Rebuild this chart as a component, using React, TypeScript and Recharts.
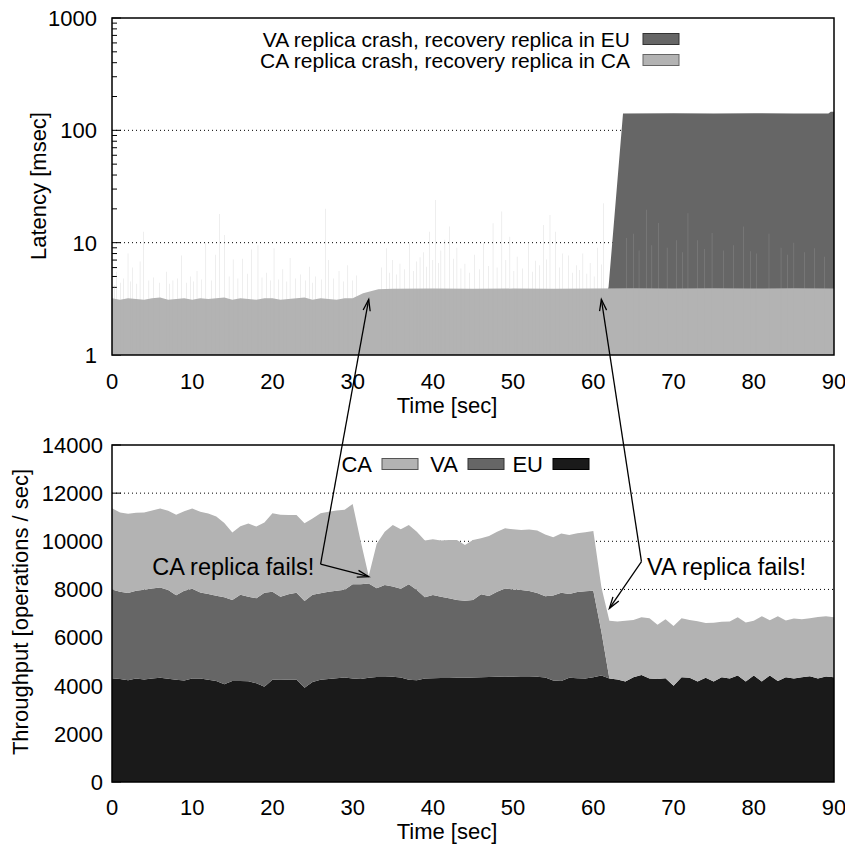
import React from 'react';
import { ComposedChart, Area, Bar, XAxis, YAxis, ReferenceLine } from 'recharts';

const FONT = '"Liberation Sans", Arial, Helvetica, sans-serif';
const FS = 22;

// ---------- axis ticks ----------
const timeTicks = [0, 10, 20, 30, 40, 50, 60, 70, 80, 90];
const latencyTicks = [1, 2, 3, 4, 5, 6, 7, 8, 9, 10, 20, 30, 40, 50, 60, 70, 80, 90, 100, 200, 300, 400, 500, 600, 700, 800, 900, 1000];
const latencyLabels = [1, 10, 100, 1000];
const latencyGrid = [10, 100];
const throughputTicks = [0, 2000, 4000, 6000, 8000, 10000, 12000, 14000];
const throughputGrid = [2000, 4000, 6000, 8000, 10000, 12000];

// ---------- top panel: latency ----------
const caCrashTime = [0, 1, 2, 3, 4, 5, 6, 7, 8, 9, 10, 11, 12, 13, 14, 15, 16, 17, 18, 19, 20, 21, 22, 23, 24, 25, 26, 27, 28, 29, 30, 31.3, 33.2, 35, 40, 45, 50, 55, 60, 65, 70, 75, 80, 85, 90];
const caCrashLatency = [3.2, 3.1, 3.2, 3.15, 3.1, 3.2, 3.25, 3.1, 3.15, 3.2, 3.1, 3.2, 3.15, 3.2, 3.25, 3.1, 3.2, 3.15, 3.1, 3.2, 3.2, 3.1, 3.15, 3.2, 3.25, 3.1, 3.2, 3.15, 3.1, 3.2, 3.2, 3.55, 3.85, 3.88, 3.9, 3.88, 3.9, 3.88, 3.9, 3.92, 3.9, 3.92, 3.9, 3.92, 3.9];

const vaCrashTime = [0, 61.5, 61.9, 63.7, 70, 75, 80, 85, 89.3, 89.6, 90];
const vaCrashLatency = [3.0, 3.0, 4.05, 141, 142, 141, 142, 141, 141, 146, 146];

const spikeTime = [
  0.3, 0.6, 1.1, 1.4, 2.0, 2.3, 2.6, 3.1, 3.5, 3.95, 4.6, 5.2, 5.9, 6.8, 7.2, 7.6, 8.2, 8.7, 9.3, 9.8,
  10.2, 10.6, 11.2, 11.7, 12.4, 12.9, 13.4, 14.0, 14.6, 15.1, 15.7, 16.3, 16.9, 17.4, 18.2, 18.7, 19.3, 19.8, 20.2, 20.8,
  21.3, 21.8, 22.2, 22.9, 23.5, 24.1, 24.6, 25.0, 25.4, 26.1, 26.6, 27.0, 27.6, 28.3, 28.9, 29.4, 30.0, 30.5,
  33.6, 34.2, 34.6, 35.0, 35.5, 35.9, 36.5, 37.1, 37.6, 38.0, 38.4, 38.8, 39.2, 39.6, 40.0, 40.3, 40.7, 41.0, 41.5, 42.1, 42.6, 43.0,
  43.5, 44.0, 44.6, 45.2, 45.8, 46.3, 46.9, 47.5, 48.0, 48.6, 49.1, 49.6, 50.1, 50.5, 51.2, 51.9, 52.4, 52.8, 53.3, 53.8,
  54.2, 54.6, 55.3, 55.8, 56.2, 56.9, 57.4, 57.9, 58.3, 58.7, 59.2, 59.6, 60.1, 60.5, 61.0, 61.3,
  64.1, 65.0, 65.7, 66.6, 67.3, 68.1, 69.2, 70.4, 71.1, 71.8, 73.0, 73.9, 74.8, 76.2, 77.5, 78.7, 79.6, 80.3, 81.9, 83.4, 84.2, 85.0, 86.3, 87.6, 88.8,
];
const spikeLatency = [
  4.2, 5.5, 4.4, 4.8, 8.0, 4.5, 6.0, 4.3, 6.8, 12.5, 4.6, 4.9, 4.4, 5.5, 4.3, 4.6, 4.8, 7.7, 4.4, 5.0,
  4.5, 5.6, 4.7, 9.9, 4.6, 7.8, 18, 11.7, 5.0, 7.1, 4.8, 7.2, 5.3, 8.7, 9.5, 4.9, 5.4, 4.6, 8.9, 4.7,
  5.8, 4.5, 7.3, 4.8, 5.2, 4.6, 6.1, 4.4, 5.0, 4.7, 20, 7.0, 4.8, 5.6, 4.5, 6.3, 4.6, 5.1,
  6.0, 8.9, 5.4, 7.0, 5.2, 6.5, 5.8, 9.9, 5.6, 6.8, 7.4, 8.2, 6.1, 12.5, 7.0, 24, 6.6, 8.5, 10.6, 13.9, 7.2, 9.0,
  5.9, 6.5, 5.4, 7.8, 5.8, 9.9, 6.2, 14.9, 6.0, 18.9, 7.0, 11.3, 5.6, 7.5, 5.9, 10.1, 5.5, 6.9, 6.3, 14.4,
  7.1, 17.6, 12.5, 6.0, 8.0, 7.7, 5.4, 6.3, 5.7, 8.0, 5.3, 6.6, 5.0, 9.0, 6.4, 22.4,
  11, 12, 8.5, 19.6, 9.5, 15, 9, 10.5, 8.2, 18.3, 10.5, 8.8, 12.2, 8.5, 9.5, 13.9, 8.4, 8, 12, 9, 7.8, 10, 8.2, 8.9, 7.5,
];

// ---------- bottom panel: throughput ----------
const seconds = [0, 1, 2, 3, 4, 5, 6, 7, 8, 9, 10, 11, 12, 13, 14, 15, 16, 17, 18, 19, 20, 21, 22, 23, 24, 25, 26, 27, 28, 29, 30, 31, 32, 33, 34, 35, 36, 37, 38, 39, 40, 41, 42, 43, 44, 45, 46, 47, 48, 49, 50, 51, 52, 53, 54, 55, 56, 57, 58, 59, 60, 61, 62, 63, 64, 65, 66, 67, 68, 69, 70, 71, 72, 73, 74, 75, 76, 77, 78, 79, 80, 81, 82, 83, 84, 85, 86, 87, 88, 89, 90];
const euThroughput = [
  4310, 4280, 4230, 4300, 4260, 4300, 4330, 4290, 4250, 4220,
  4300, 4300, 4250, 4200, 4060, 4200, 4200, 4190, 4100, 3960,
  4250, 4260, 4250, 4250, 3920, 4150, 4250, 4280, 4310, 4340,
  4300, 4280, 4330, 4360, 4360, 4370, 4340, 4250, 4230, 4300,
  4310, 4320, 4320, 4330, 4330, 4340, 4350, 4360, 4370, 4380,
  4370, 4360, 4360, 4370, 4340, 4220, 4200, 4330, 4310, 4300,
  4350, 4420, 4300, 4260, 4170, 4350, 4450, 4300, 4280, 4310,
  4000, 4350, 4330, 4170, 4330, 4180, 4350, 4300, 4420, 4170,
  4420, 4180, 4420, 4200, 4350, 4300, 4350, 4390, 4300, 4380,
  4350,
];
const vaThroughput = [
  3690, 3620, 3620, 3650, 3730, 3740, 3750, 3690, 3510, 3730,
  3730, 3570, 3560, 3540, 3610, 3360, 3580, 3510, 3530, 3900,
  3650, 3440, 3550, 3610, 3600, 3630, 3590, 3620, 3640, 3650,
  3910, 3940, 3920, 3690, 3820, 3750, 3690, 3970, 3750, 3370,
  3460, 3380, 3310, 3230, 3200, 3220, 3450, 3370, 3530, 3660,
  3630, 3620, 3570, 3480, 3380, 3530, 3660, 3480, 3580, 3620,
  3600, 1830, 0, 0, 0, 0, 0, 0, 0, 0,
  0, 0, 0, 0, 0, 0, 0, 0, 0, 0,
  0, 0, 0, 0, 0, 0, 0, 0, 0, 0,
  0,
];
const caThroughput = [
  3370, 3300, 3290, 3240, 3210, 3240, 3280, 3290, 3340, 3300,
  3330, 3360, 3340, 3290, 3090, 2800, 2840, 3040, 2980, 2920,
  3260, 3400, 3290, 3230, 3230, 3170, 3320, 3330, 3330, 3320,
  3340, 1780, 310, 1850, 2220, 2560, 2470, 2460, 2420, 2360,
  2310, 2330, 2420, 2490, 2320, 2490, 2330, 2490, 2500, 2500,
  2500, 2490, 2560, 2600, 2560, 2420, 2460, 2450, 2440, 2460,
  2480, 1850, 2400, 2410, 2530, 2380, 2390, 2500, 2250, 2450,
  2480, 2450, 2400, 2510, 2280, 2440, 2310, 2370, 2420, 2460,
  2280, 2710, 2300, 2690, 2360, 2490, 2410, 2410, 2550, 2510,
  2490,
];

// ---------- colours ----------
const LIGHT = '#b3b3b3';
const MID = '#666666';
const DARK = '#1a1a1a';

// ---------- build tables ----------
const latMap = new Map<number, any>();
const put = (t: number, key: string, v: number) => {
  const r = latMap.get(t) ?? { t };
  r[key] = v;
  latMap.set(t, r);
};
caCrashTime.forEach((t, i) => put(t, 'ca', caCrashLatency[i]));
vaCrashTime.forEach((t, i) => put(t, 'va', vaCrashLatency[i]));
spikeTime.forEach((t, i) => put(t, 'spike', spikeLatency[i]));
const latencyRows = Array.from(latMap.values()).sort((a, b) => a.t - b.t);

const throughputRows = seconds.map((t, i) => ({
  t,
  eu: euThroughput[i],
  va: vaThroughput[i],
  ca: caThroughput[i],
}));

// ---------- layout (page coordinates; wrapper is pulled to the page origin) ----------
const W = 853;
const H = 844;
const PL = 112;
const PR = 834;
const T1 = 18;
const B1 = 355;
const H1 = 408;
const OFF2 = 408;
const T2 = 445;
const B2 = 782;
const H2 = 436;

const sx = (t: number) => PL + (t / 90) * (PR - PL);
const syTop = (ms: number) => B1 - (Math.log10(ms) / 3) * (B1 - T1);
const syBot = (v: number) => B2 - (v / 14000) * (B2 - T2);

// ---------- tick renderers ----------
const textStyle = { fontFamily: FONT, fontSize: FS, fill: '#000' };

const LatencyLeftTick = (p: any) => {
  const v = p.payload.value;
  const major = latencyLabels.includes(v);
  const x0 = p.x + 15;
  return (
    <g>
      <line x1={x0} y1={p.y} x2={x0 + (major ? 9 : 5)} y2={p.y} stroke="#000" strokeWidth={1} />
      {major ? (
        <text x={p.x} y={p.y} dy="0.36em" textAnchor="end" {...textStyle}>
          {v}
        </text>
      ) : null}
    </g>
  );
};

const LatencyRightTick = (p: any) => {
  const v = p.payload.value;
  const major = latencyLabels.includes(v);
  return <line x1={p.x} y1={p.y} x2={p.x - (major ? 9 : 5)} y2={p.y} stroke="#000" strokeWidth={1} />;
};

const ThroughputLeftTick = (p: any) => {
  const v = p.payload.value;
  const x0 = p.x + 9;
  return (
    <g>
      <line x1={x0} y1={p.y} x2={x0 + 9} y2={p.y} stroke="#000" strokeWidth={1} />
      <text x={p.x} y={p.y} dy="0.36em" textAnchor="end" {...textStyle}>
        {v}
      </text>
    </g>
  );
};

const RightMajorTick = (p: any) => (
  <line x1={p.x} y1={p.y} x2={p.x - 9} y2={p.y} stroke="#000" strokeWidth={1} />
);

const TopTick = (p: any) => (
  <line x1={p.x} y1={p.y} x2={p.x} y2={p.y + 9} stroke="#000" strokeWidth={1} />
);

// ---------- annotations ----------
const annotations = [
  { text: 'CA replica fails!', anchor: 'end', tx: 25.2, ty: 8970, from: [26.0, 9056], toBottom: [32.0, 8530], toTop: [32.0, 3.13] },
  { text: 'VA replica fails!', anchor: 'start', tx: 66.7, ty: 8970, from: [66.0, 9151], toBottom: [62.0, 7215], toTop: [61.0, 3.13] },
];

const Arrow = ({ x1, y1, x2, y2 }: { x1: number; y1: number; x2: number; y2: number }) => {
  const ang = Math.atan2(y2 - y1, x2 - x1);
  const L = 12;
  const a = 0.3;
  const hx1 = x2 - L * Math.cos(ang - a);
  const hy1 = y2 - L * Math.sin(ang - a);
  const hx2 = x2 - L * Math.cos(ang + a);
  const hy2 = y2 - L * Math.sin(ang + a);
  return (
    <g stroke="#000" strokeWidth={1.3} fill="none">
      <line x1={x1} y1={y1} x2={x2} y2={y2} />
      <polyline points={`${hx1},${hy1} ${x2},${y2} ${hx2},${hy2}`} />
    </g>
  );
};

const topLegend = [
  { label: 'VA replica crash, recovery replica in EU', fill: MID, stroke: '#333' },
  { label: 'CA replica crash, recovery replica in CA', fill: LIGHT, stroke: '#666' },
];
const bottomLegend = [
  { label: 'CA', fill: LIGHT, stroke: '#555', box: 382 },
  { label: 'VA', fill: MID, stroke: '#333', box: 468 },
  { label: 'EU', fill: DARK, stroke: '#000', box: 553 },
];

export default function App() {
  const abs: React.CSSProperties = { position: 'absolute', left: 0 };
  return (
    <div style={{ position: 'relative', left: -8, top: -8, width: W, height: H, fontFamily: FONT, background: '#fff' }}>
      {/* ---- top panel: axes / grid (behind) ---- */}
      <div style={{ ...abs, top: 0 }}>
        <ComposedChart width={W} height={H1} data={latencyRows} margin={{ top: T1, right: W - PR, bottom: 0, left: 0 }}>
          <XAxis dataKey="t" type="number" domain={[0, 90]} ticks={timeTicks} interval={0} height={H1 - B1}
            axisLine={false} tickLine={false} tickSize={0} tickMargin={18} tick={{ ...textStyle }} allowDataOverflow />
          <XAxis xAxisId="top" orientation="top" dataKey="t" type="number" domain={[0, 90]} ticks={timeTicks} interval={0}
            height={0} axisLine={false} tickLine={false} tickSize={0} tickMargin={0} tick={TopTick} allowDataOverflow />
          <YAxis yAxisId="l" type="number" scale="log" domain={[1, 1000]} ticks={latencyTicks} interval={0} width={PL}
            axisLine={false} tickLine={false} tickSize={0} tickMargin={15} tick={LatencyLeftTick} allowDataOverflow />
          <YAxis yAxisId="r" orientation="right" type="number" scale="log" domain={[1, 1000]} ticks={latencyTicks} interval={0} width={0}
            axisLine={false} tickLine={false} tickSize={0} tickMargin={0} tick={LatencyRightTick} allowDataOverflow />
          {latencyGrid.map((g) => (
            <ReferenceLine key={g} y={g} yAxisId="l" stroke="#000" strokeDasharray="1 3" strokeWidth={1} />
          ))}
        </ComposedChart>
      </div>
      {/* ---- top panel: series ---- */}
      <div style={{ ...abs, top: 0 }}>
        <ComposedChart width={W} height={H1} data={latencyRows} margin={{ top: T1, right: W - PR, bottom: H1 - B1, left: PL }}>
          <XAxis dataKey="t" type="number" domain={[0, 90]} hide allowDataOverflow />
          <YAxis type="number" scale="log" domain={[1, 1000]} hide allowDataOverflow />
          <Area dataKey="va" name="VA replica crash, recovery replica in EU" type="linear" baseValue={1} connectNulls
            fill={MID} fillOpacity={1} stroke="none" dot={false} activeDot={false} isAnimationActive={false} />
          <Bar dataKey="spike" barSize={1} fill={LIGHT} fillOpacity={0.6} isAnimationActive={false} />
          <Area dataKey="ca" name="CA replica crash, recovery replica in CA" type="linear" baseValue={1} connectNulls
            fill={LIGHT} fillOpacity={1} stroke="none" dot={false} activeDot={false} isAnimationActive={false} />
        </ComposedChart>
      </div>

      {/* ---- bottom panel: axes / grid (behind) ---- */}
      <div style={{ ...abs, top: OFF2 }}>
        <ComposedChart width={W} height={H2} data={throughputRows} margin={{ top: T2 - OFF2, right: W - PR, bottom: 0, left: 0 }}>
          <XAxis dataKey="t" type="number" domain={[0, 90]} ticks={timeTicks} interval={0} height={OFF2 + H2 - B2}
            axisLine={false} tickLine={false} tickSize={0} tickMargin={17} tick={{ ...textStyle }} allowDataOverflow />
          <XAxis xAxisId="top" orientation="top" dataKey="t" type="number" domain={[0, 90]} ticks={timeTicks} interval={0}
            height={0} axisLine={false} tickLine={false} tickSize={0} tickMargin={0} tick={TopTick} allowDataOverflow />
          <YAxis yAxisId="l" type="number" domain={[0, 14000]} ticks={throughputTicks} interval={0} width={PL}
            axisLine={false} tickLine={false} tickSize={0} tickMargin={9} tick={ThroughputLeftTick} allowDataOverflow />
          <YAxis yAxisId="r" orientation="right" type="number" domain={[0, 14000]} ticks={throughputTicks} interval={0} width={0}
            axisLine={false} tickLine={false} tickSize={0} tickMargin={0} tick={RightMajorTick} allowDataOverflow />
          {throughputGrid.map((g) => (
            <ReferenceLine key={g} y={g} yAxisId="l" stroke="#000" strokeDasharray="1 3" strokeWidth={1} />
          ))}
        </ComposedChart>
      </div>
      {/* ---- bottom panel: series ---- */}
      <div style={{ ...abs, top: OFF2 }}>
        <ComposedChart width={W} height={H2} data={throughputRows} margin={{ top: T2 - OFF2, right: W - PR, bottom: OFF2 + H2 - B2, left: PL }}>
          <XAxis dataKey="t" type="number" domain={[0, 90]} hide allowDataOverflow />
          <YAxis type="number" domain={[0, 14000]} hide allowDataOverflow />
          <Area stackId="tp" dataKey="eu" name="EU" type="linear" fill={DARK} fillOpacity={1} stroke="none"
            dot={false} activeDot={false} isAnimationActive={false} />
          <Area stackId="tp" dataKey="va" name="VA" type="linear" fill={MID} fillOpacity={1} stroke="none"
            dot={false} activeDot={false} isAnimationActive={false} />
          <Area stackId="tp" dataKey="ca" name="CA" type="linear" fill={LIGHT} fillOpacity={1} stroke="none"
            dot={false} activeDot={false} isAnimationActive={false} />
        </ComposedChart>
      </div>

      {/* ---- overlay: frames, legends, titles, annotations ---- */}
      <svg width={W} height={H} style={{ position: 'absolute', left: 0, top: 0, pointerEvents: 'none' }}>
        <rect x={PL} y={T1} width={PR - PL} height={B1 - T1} fill="none" stroke="#000" strokeWidth={1.5} />
        <rect x={PL} y={T2} width={PR - PL} height={B2 - T2} fill="none" stroke="#000" strokeWidth={1.5} />

        {topLegend.map((e, i) => (
          <g key={e.label}>
            <text x={630} y={39 + i * 21} dy="0.36em" textAnchor="end" fontFamily={FONT} fontSize={21} fill="#000">
              {e.label}
            </text>
            <rect x={643} y={39 + i * 21 - 5.5} width={36} height={11} fill={e.fill} stroke={e.stroke} strokeWidth={1} />
          </g>
        ))}
        {bottomLegend.map((e) => (
          <g key={e.label}>
            <text x={e.box - 10} y={464} dy="0.36em" textAnchor="end" fontFamily={FONT} fontSize={FS} fill="#000">
              {e.label}
            </text>
            <rect x={e.box} y={464 - 5.5} width={36} height={11} fill={e.fill} stroke={e.stroke} strokeWidth={1} />
          </g>
        ))}

        <text x={447} y={405} dy="0.36em" textAnchor="middle" fontFamily={FONT} fontSize={FS} fill="#000">Time [sec]</text>
        <text x={447} y={831} dy="0.36em" textAnchor="middle" fontFamily={FONT} fontSize={FS} fill="#000">Time [sec]</text>
        <text transform={`translate(38,186) rotate(-90)`} dy="0.36em" textAnchor="middle" fontFamily={FONT} fontSize={FS} fill="#000">
          Latency [msec]
        </text>
        <text transform={`translate(20,612) rotate(-90)`} dy="0.36em" textAnchor="middle" fontFamily={FONT} fontSize={FS} fill="#000">
          Throughput [operations / sec]
        </text>

        {annotations.map((a) => (
          <g key={a.text}>
            <text x={sx(a.tx)} y={syBot(a.ty)} dy="0.36em" textAnchor={a.anchor as any} fontFamily={FONT} fontSize={23.5} fill="#000">
              {a.text}
            </text>
            <Arrow x1={sx(a.from[0])} y1={syBot(a.from[1])} x2={sx(a.toBottom[0])} y2={syBot(a.toBottom[1])} />
            <Arrow x1={sx(a.from[0])} y1={syBot(a.from[1])} x2={sx(a.toTop[0])} y2={syTop(a.toTop[1])} />
          </g>
        ))}
      </svg>
    </div>
  );
}
